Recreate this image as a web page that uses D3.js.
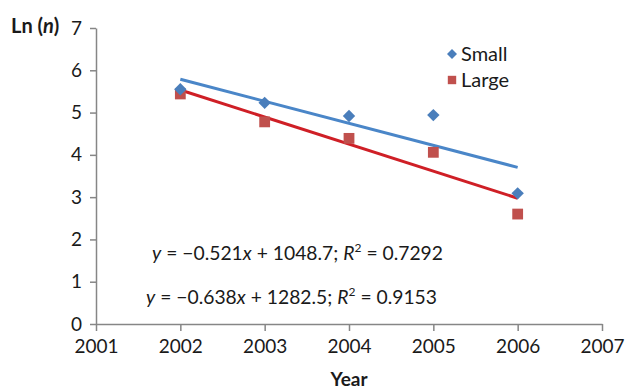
<!DOCTYPE html>
<html>
<head>
<meta charset="utf-8">
<script src="https://cdn.jsdelivr.net/npm/d3@7"></script>
<style>
  html, body { margin: 0; padding: 0; background: #fff; }
  svg { display: block; font-family: Lato, "Open Sans", sans-serif; }
</style>
</head>
<body>
<svg id="chart" width="626" height="390"></svg>
<script>
// Ln(n) by year for the two size classes
const years = [2002, 2003, 2004, 2005, 2006];
const smallValues = [5.55, 5.23, 4.92, 4.94, 3.09];
const largeValues = [5.44, 4.78, 4.39, 4.06, 2.60];
const xTickValues = [2001, 2002, 2003, 2004, 2005, 2006, 2007];
const yTickValues = [0, 1, 2, 3, 4, 5, 6, 7];
const seriesNames = ["Small", "Large"];
const equationSmall = { slope: "0.521", intercept: "1048.7", r2: "0.7292" };
const equationLarge = { slope: "0.638", intercept: "1282.5", r2: "0.9153" };

const svg = d3.select("#chart");
const axisColor = "#868686";
const textColor = "#1a1a1a";
const blueMark = "#4a7ebb", blueLine = "#4a86c8";
const redMark = "#c0504d", redLine = "#cf1f26";

const x = d3.scaleLinear().domain([2001, 2007]).range([96, 602]);
const y = d3.scaleLinear().domain([0, 7]).range([324, 28]);

// least-squares fit through the points
function fit(xs, ys) {
  const mx = d3.mean(xs), my = d3.mean(ys);
  const b = d3.sum(xs, (v, i) => (v - mx) * (ys[i] - my)) / d3.sum(xs, v => (v - mx) ** 2);
  return { slope: b, intercept: my - b * mx };
}

// axes
const xAxis = d3.axisBottom(x).tickValues(xTickValues).tickFormat(d3.format("d"))
  .tickSizeInner(7).tickSizeOuter(0).tickPadding(9);
const yAxis = d3.axisLeft(y).tickValues(yTickValues).tickFormat(d3.format("d"))
  .tickSizeInner(6).tickSizeOuter(0).tickPadding(8);

const gx = svg.append("g").attr("transform", `translate(0,${y(0)})`).call(xAxis);
const gy = svg.append("g").attr("transform", `translate(${x(2001)},0)`).call(yAxis);
[gx, gy].forEach(g => {
  g.select(".domain").attr("stroke", axisColor).attr("stroke-width", 1.5);
  g.selectAll(".tick line").attr("stroke", axisColor).attr("stroke-width", 1.5);
  g.selectAll(".tick text").attr("fill", textColor).style("font-size", "19px")
    .style("font-family", "Lato, sans-serif");
});

// trend lines
const series = [
  { name: seriesNames[0], values: smallValues, mark: blueMark, line: blueLine, shape: "diamond" },
  { name: seriesNames[1], values: largeValues, mark: redMark, line: redLine, shape: "square" }
];

series.forEach(s => {
  const f = fit(years, s.values);
  const x0 = d3.min(years), x1 = d3.max(years);
  svg.append("line")
    .attr("x1", x(x0)).attr("y1", y(f.slope * x0 + f.intercept))
    .attr("x2", x(x1)).attr("y2", y(f.slope * x1 + f.intercept))
    .attr("stroke", s.line).attr("stroke-width", 3).attr("stroke-linecap", "butt");
});

function markerPath(shape, r) {
  if (shape === "diamond") return `M0,${-r}L${r},0L0,${r}L${-r},0Z`;
  return `M${-r},${-r}H${r}V${r}H${-r}Z`;
}

// data points (large first so the small diamonds sit on top)
[series[1], series[0]].forEach(s => {
  svg.append("g").selectAll("path")
    .data(years.map((yr, i) => ({ yr, v: s.values[i] })))
    .join("path")
    .attr("transform", d => `translate(${x(d.yr)},${y(d.v)})`)
    .attr("d", markerPath(s.shape, s.shape === "diamond" ? 6.2 : 5.4))
    .attr("fill", s.mark);
});

// legend
const legend = svg.append("g").attr("transform", "translate(452,54)");
series.forEach((s, i) => {
  const row = legend.append("g").attr("transform", `translate(0,${i * 26})`);
  row.append("path").attr("d", markerPath(s.shape, s.shape === "diamond" ? 5 : 4.2)).attr("fill", s.mark);
  row.append("text").attr("x", 9).attr("y", 7).text(s.name)
    .style("font-size", "20px").attr("fill", textColor);
});

// regression equations
function equation(eq, px, py) {
  const t = svg.append("text").attr("x", px).attr("y", py)
    .style("font-size", "19.3px").attr("fill", textColor);
  t.append("tspan").style("font-style", "italic").text("y");
  t.append("tspan").text(` = \u2212${eq.slope}`);
  t.append("tspan").style("font-style", "italic").text("x");
  t.append("tspan").text(` + ${eq.intercept}; `);
  t.append("tspan").style("font-style", "italic").text("R");
  t.append("tspan").attr("dy", -8).style("font-size", "12px").text("2");
  t.append("tspan").attr("dy", 8).text(` = ${eq.r2}`);
}
equation(equationSmall, 152, 260);
equation(equationLarge, 146, 304);

// axis titles
const yTitle = svg.append("text").attr("x", 11).attr("y", 33)
  .style("font-size", "20px").style("font-weight", "bold").attr("fill", textColor);
yTitle.append("tspan").text("Ln (");
yTitle.append("tspan").style("font-style", "italic").text("n");
yTitle.append("tspan").text(")");

svg.append("text").attr("x", (x(2001) + x(2007)) / 2).attr("y", 386)
  .attr("text-anchor", "middle").style("font-size", "19px").style("font-weight", "bold")
  .attr("fill", textColor).text("Year");
</script>
</body>
</html>
